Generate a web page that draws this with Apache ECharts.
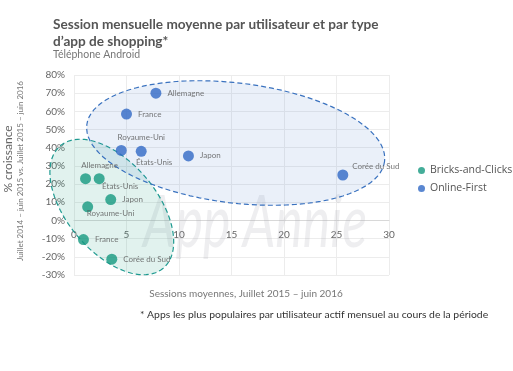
<!DOCTYPE html>
<html>
<head>
<meta charset="utf-8">
<script src="https://cdn.jsdelivr.net/npm/echarts@6/dist/echarts.min.js"></script>
<style>html,body{margin:0;padding:0;background:#fff;}#c{width:513px;height:371px;}</style>
</head>
<body>
<div id="c"></div>
<script>
// ---- data ----
const seriesNames = ['Bricks-and-Clicks', 'Online-First'];
const bricksCountries = ['Allemagne', 'États-Unis', 'Japon', 'Royaume-Uni', 'France', 'Corée du Sud'];
const bricksSessions = [1.1, 2.4, 3.5, 1.3, 0.9, 3.6];
const bricksGrowth = [23, 23, 11.5, 7.5, -10.5, -21.3];
const onlineCountries = ['Allemagne', 'France', 'Royaume-Uni', 'États-Unis', 'Japon', 'Corée du Sud'];
const onlineSessions = [7.8, 5.0, 4.5, 6.4, 10.9, 25.6];
const onlineGrowth = [70, 58.5, 38.5, 38, 35.5, 25];
const xTicks = [0, 5, 10, 15, 20, 25, 30];
const yTicks = [-30, -20, -10, 0, 10, 20, 30, 40, 50, 60, 70, 80];

// ---- styles / layout ----
const colors = ['#15997f', '#3169c6'];
const labelPlacement = {
  'Bricks-and-Clicks': {
    'Allemagne': {position: 'top', offset: [14, 2]},
    'États-Unis': {position: 'bottom', offset: [21, -8]},
    'Royaume-Uni': {position: 'bottom', offset: [23, -9]}
  },
  'Online-First': {
    'Royaume-Uni': {position: 'top', offset: [20, 2]},
    'États-Unis': {position: 'bottom', offset: [13, -4]},
    'Corée du Sud': {position: 'right', offset: [-2, -9]}
  }
};
// group outlines (annotation): centre in data units, radii in pixels, rotation in degrees
const groupOutlines = [
  {center: [3.6, 7.4], rx: 80, ry: 45, angle: 50, fill: 'rgba(21,153,127,0.13)', stroke: '#1e9a90'},
  {center: [15.4, 42.6], rx: 150, ry: 60, angle: 7, fill: 'rgba(49,105,198,0.10)', stroke: '#3a72bf'}
];

function makeData(names, xs, ys, sname) {
  return names.map((n, i) => {
    const d = {name: n, value: [xs[i], ys[i]]};
    const p = labelPlacement[sname][n];
    if (p) d.label = {position: p.position, offset: p.offset};
    return d;
  });
}

const X_MIN = 0, X_MAX = 30, Y_MIN = -30, Y_MAX = 80;
// plot box
const G = {left: 74, right: 124, top: 75, bottom: 96};
const plotH = 371 - G.top - G.bottom;
const zeroFromBottom = G.bottom + plotH * (0 - Y_MIN) / (Y_MAX - Y_MIN);

const labelStyle = {show: true, position: 'right', distance: 6, formatter: '{b}', color: '#555', fontSize: 8, fontFamily: 'Lato'};
const chart = echarts.init(document.getElementById('c'));
chart.setOption({
  animation: false,
  grid: [
    {left: G.left, right: G.right, top: G.top, bottom: G.bottom},
    // helper grid whose bottom edge sits on the y = 0 line, carrying the x tick labels
    {left: G.left, right: G.right, top: G.top, bottom: zeroFromBottom}
  ],
  legend: {
    data: seriesNames, orient: 'vertical', left: 413, top: 160, itemGap: 7,
    icon: 'circle', itemWidth: 7, itemHeight: 7,
    textStyle: {color: '#555', fontSize: 10.5, fontFamily: 'Open Sans'}
  },
  xAxis: [
    {
      type: 'value', gridIndex: 0, min: X_MIN, max: X_MAX, interval: 5,
      axisLine: {show: false}, axisTick: {show: false}, axisLabel: {show: false},
      splitLine: {lineStyle: {color: '#ececec'}}
    },
    {
      type: 'value', gridIndex: 1, min: X_MIN, max: X_MAX, interval: 5,
      axisLine: {show: true, lineStyle: {color: '#d8d8d8'}},
      axisTick: {show: false}, splitLine: {show: false},
      axisLabel: {color: '#666', fontSize: 10, fontFamily: 'Lato', margin: 9,
        formatter: v => xTicks.includes(v) ? String(v) : ''}
    }
  ],
  yAxis: [
    {
      type: 'value', gridIndex: 0, min: Y_MIN, max: Y_MAX, interval: 10,
      axisLine: {show: false, onZero: false}, axisTick: {show: false},
      axisLabel: {color: '#666', fontSize: 10, fontFamily: 'Lato', margin: 9,
        formatter: v => yTicks.includes(v) ? v + '%' : ''},
      splitLine: {lineStyle: {color: '#ececec'}}
    },
    {
      type: 'value', gridIndex: 1, min: 0, max: Y_MAX, show: false
    }
  ],
  graphic: [
    {type: 'text', left: 53, top: 16, style: {text: 'Session mensuelle moyenne par utilisateur et par type\nd\u2019app de shopping*', fill: '#555', font: 'bold 13.6px Lato', lineHeight: 17}},
    {type: 'text', left: 53, top: 49, style: {text: 'Téléphone Android', fill: '#777', font: '10.5px Lato'}},
    {type: 'text', x: 8, y: 159, rotation: Math.PI / 2, style: {text: '% croissance', fill: '#666', font: '12px Lato', align: 'center', verticalAlign: 'middle'}},
    {type: 'text', x: 20, y: 171, rotation: Math.PI / 2, style: {text: 'Juillet 2014 – juin 2015 vs. Juillet 2015 – juin 2016', fill: '#777', font: '8px Lato', align: 'center', verticalAlign: 'middle'}},
    {type: 'text', x: 246, y: 294, style: {text: 'Sessions moyennes, Juillet 2015 – juin 2016', fill: '#777', font: '10px Lato', align: 'center', verticalAlign: 'middle'}},
    {type: 'text', x: 140, y: 315, style: {text: '* Apps les plus populaires par utilisateur actif mensuel au cours de la période', fill: '#333', font: '10.4px Lato', verticalAlign: 'middle'}},
    {type: 'text', x: 143, y: 188, scaleX: 0.72, z: 1, silent: true, style: {text: 'App Annie', fill: 'rgba(160,160,170,0.18)', font: 'italic 72px Lato', verticalAlign: 'alphabetic'}}
  ],
  series: [
    {
      type: 'custom', name: 'outlines', silent: true, z: 1, xAxisIndex: 0, yAxisIndex: 0,
      data: groupOutlines.map(g => g.center),
      renderItem: function (params, api) {
        const g = groupOutlines[params.dataIndex];
        const c = api.coord([api.value(0), api.value(1)]);
        const th = g.angle * Math.PI / 180;
        const pts = [];
        for (let i = 0; i < 96; i++) {
          const t = 2 * Math.PI * i / 96;
          const x = g.rx * Math.cos(t), y = g.ry * Math.sin(t);
          pts.push([c[0] + x * Math.cos(th) - y * Math.sin(th), c[1] + x * Math.sin(th) + y * Math.cos(th)]);
        }
        return {type: 'polygon', shape: {points: pts}, style: {fill: g.fill, stroke: g.stroke, lineWidth: 1.2, lineDash: [5, 3]}};
      }
    },
    {
      name: seriesNames[0], type: 'scatter', symbolSize: 11, z: 3, xAxisIndex: 0, yAxisIndex: 0,
      itemStyle: {color: colors[0]},
      data: makeData(bricksCountries, bricksSessions, bricksGrowth, seriesNames[0]),
      label: labelStyle
    },
    {
      name: seriesNames[1], type: 'scatter', symbolSize: 11, z: 3, xAxisIndex: 0, yAxisIndex: 0,
      itemStyle: {color: colors[1]},
      data: makeData(onlineCountries, onlineSessions, onlineGrowth, seriesNames[1]),
      label: labelStyle
    }
  ]
});
</script>
</body>
</html>
